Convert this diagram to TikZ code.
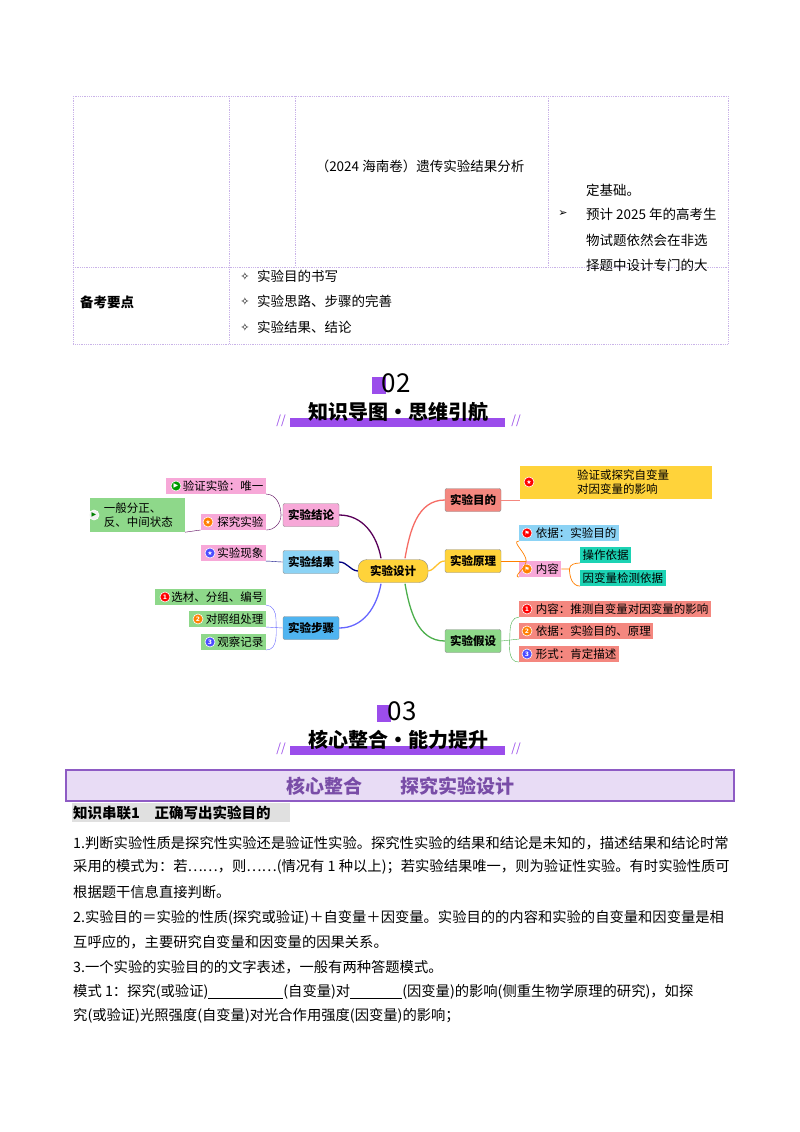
\documentclass[tikz,border=0pt]{standalone}
\usepackage{fontspec}
\setmainfont{Noto Sans CJK SC}
\newfontfamily\symfont{DejaVu Sans}
\usetikzlibrary{positioning}
\definecolor{grid}{HTML}{C9B3E8}
\definecolor{vio}{HTML}{9B4DEB}
\definecolor{boxfill}{HTML}{E8DCF5}
\definecolor{boxline}{HTML}{8E5BC4}
\definecolor{salmon}{HTML}{F4877F}
\definecolor{gold}{HTML}{FFD33A}
\definecolor{pinkb}{HTML}{F7A8D8}
\definecolor{skyb}{HTML}{8CD3F5}
\definecolor{greenb}{HTML}{8ED88A}
\definecolor{tealb}{HTML}{1CD3B4}
\definecolor{blueb}{HTML}{4FB4F0}
\tikzset{
  topic/.style={draw=black!45, rounded corners=2pt, font=\bfseries\fontsize{11.5}{12}\selectfont, minimum width=56, minimum height=23, inner sep=2pt},
  leaf/.style={rounded corners=0pt, font=\fontsize{11.5}{14}\selectfont, inner sep=2.5pt, anchor=west, align=left},
  leafl/.style={leaf, anchor=east},
  body/.style={anchor=west, inner sep=0, font=\fontsize{14.3}{16}\selectfont},
  cell/.style={anchor=west, inner sep=0, font=\fontsize{13.5}{15}\selectfont},
  dots/.style={grid, densely dotted, line width=0.8pt},
  ico/.style={circle, fill=#1, draw=white, line width=0.6pt, inner sep=0, minimum size=10, text=white, font=\symfont\bfseries\fontsize{6}{6}\selectfont},
}
\begin{document}
\begin{tikzpicture}[x=1pt, y=-1pt]
\useasboundingbox[fill=white] (0,0) rectangle (800,1132);

% table
\draw[dots] (73,96) rectangle (728,344);
\draw[dots] (73,267) -- (728,267);
\draw[dots] (229,96) -- (229,344);
\draw[dots] (295,96) -- (295,267);
\draw[dots] (548,96) -- (548,267);
\node[cell, anchor=center] (exam) at (420,166) {（2024\ 海南卷）遗传实验结果分析};
\node[cell] (r1) at (586,190) {定基础。};
\node[anchor=center, font=\symfont\fontsize{11}{11}\selectfont] (arr) at (563,214) {➢};
\node[cell] (r2) at (586,214) {预计 2025 年的高考生};
\node[cell] (r3) at (586,240) {物试题依然会在非选};
\node[cell] (r4) at (586,265) {择题中设计专门的大};
\node[cell, font=\bfseries\fontsize{13.5}{15}\selectfont] (prep) at (80,302) {备考要点};
\foreach \y/\t in {276/实验目的书写, 301/实验思路、步骤的完善, 327/实验结果、结论}{
  \node[anchor=center, font=\symfont\fontsize{11}{11}\selectfont] at (245,\y) {✧};
  \node[cell] at (257,\y) {\t};
}

% header 02
\fill[vio] (372,377) rectangle (386,394);
\node[font=\fontsize{26}{26}\selectfont, inner sep=0] (n02) at (396,383) {02};
\fill[vio] (290,418) rectangle (505,427);
\node[font=\bfseries\fontsize{20}{20}\selectfont, inner sep=0] (t02) at (398,412) {知识导图·思维引航};
\node[text=vio, font=\fontsize{12}{12}\selectfont\itshape] at (281,421) {//};
\node[text=vio, font=\fontsize{12}{12}\selectfont\itshape] at (516,421) {//};

% mind map
\node[topic, fill=gold, rounded corners=9pt, minimum width=70] (root) at (393,571) {实验设计};
\node[topic, fill=salmon] (aim) at (473,500) {实验目的};
\node[topic, fill=gold] (prin) at (473,561) {实验原理};
\node[topic, fill=greenb] (hyp) at (473,641) {实验假设};
\node[topic, fill=pinkb] (conc) at (311,515) {实验结论};
\node[topic, fill=skyb] (res) at (311,562) {实验结果};
\node[topic, fill=blueb] (step) at (311,628) {实验步骤};

\draw[salmon!80!red, line width=1.3pt] (root.north) ++(12,-1) to[out=80, in=180] (aim.west);
\draw[gold!80!orange, line width=1.3pt] (root.east) to[out=10, in=180] (prin.west);
\draw[green!55!black!70, line width=1.3pt] (root.south) ++(12,1) to[out=-80, in=180] (hyp.west);
\draw[violet!70!black, line width=1.3pt] (root.north) ++(-12,-1) to[out=100, in=0] (conc.east);
\draw[blue!50!black, line width=1.3pt] (root.west) to[out=175, in=0] (res.east);
\draw[blue!60, line width=1.3pt] (root.south) ++(-12,1) to[out=-100, in=0] (step.east);

% right leaves
\node[leaf, fill=gold, minimum height=33, minimum width=192] (aimA) at (520,482) {\hspace{14pt}验证或探究自变量\\\hspace{14pt}对因变量的影响};
\node[ico=red] at (529,482) {★};
\draw[salmon] (aim.east) -- (aimA.west |- aim.east);
\node[leaf, fill=skyb] (prinA) at (519,533) {\quad\ 依据：实验目的};
\node[ico=red] at (527,533) {⚑};
\node[leaf, fill=pinkb] (prinB) at (519,569) {\quad\ 内容};
\node[ico=orange] at (527,569) {⚑};
\node[leaf, fill=tealb] (prinC) at (580,555) {操作依据};
\node[leaf, fill=tealb] (prinD) at (580,578) {因变量检测依据};
\draw[orange, line width=0.7pt] (prin.east) -- ++(25,0) coordinate (pm);
\draw[orange, line width=0.7pt] (prinA.south west) to[out=180, in=90] (pm);
\draw[orange, line width=0.7pt] (pm) to[out=-90, in=180] (prinB.south west);
\draw[orange, line width=0.7pt] (prinB.east) ++(8,0) coordinate (pb);
\draw[orange, line width=0.7pt] (prinB.east) -- (pb) to[out=90, in=180] (prinC.south west);
\draw[orange, line width=0.7pt] (pb) to[out=-90, in=180] (prinD.south west);

\node[leaf, fill=salmon] (hypA) at (519,609) {\quad\ 内容：推测自变量对因变量的影响};
\node[ico=red] at (527,609) {1};
\node[leaf, fill=salmon] (hypB) at (519,631) {\quad\ 依据：实验目的、原理};
\node[ico=orange] at (527,631) {2};
\node[leaf, fill=salmon] (hypC) at (519,654) {\quad\ 形式：肯定描述};
\node[ico=blue!70] at (527,654) {3};
\draw[green!55!black!70] (hyp.east) -- (hypB.south west);
\draw[green!55!black!70] (hypA.south west) to[out=180, in=90] (510,631) to[out=-90, in=180] (hypC.south west);

% left leaves
\node[leafl, fill=pinkb] (concA) at (266,486) {\quad\ 验证实验：唯一};
\node[ico=green!60!black] at (176,486) {▶};
\node[leafl, fill=pinkb] (concB) at (266,522) {\quad\ 探究实验};
\node[ico=orange] at (208,522) {★};
\node[leafl, fill=greenb, minimum height=34, text width=90] (concC) at (185,515) {\quad 一般分正、\\\quad 反、中间状态};
\node[ico=white!90!gray, text=green!50!black] at (94,515) {▶};
\draw[violet!70!black] (concA.south east) to[out=0, in=90] (281,515) -- (conc.west);
\draw[violet!70!black] (281,515) to[out=-90, in=0] (concB.south east);
\draw[violet!70!black] (concB.south west) -- (concC.south east);

\node[leafl, fill=pinkb] (resA) at (266,553) {\quad\ 实验现象};
\node[ico=blue!70] at (210,553) {★};
\draw[blue!50!black] (resA.south east) to[out=0, in=180] (res.west);

\node[leafl, fill=greenb] (stepA) at (266,597) {\quad\ 选材、分组、编号};
\node[ico=red] at (165,597) {1};
\node[leafl, fill=greenb] (stepB) at (266,619) {\quad\ 对照组处理};
\node[ico=orange] at (198,619) {2};
\node[leafl, fill=greenb] (stepC) at (266,642) {\quad\ 观察记录};
\node[ico=blue!70] at (210,642) {3};
\draw[blue!60] (step.west) -- (stepB.south east);
\draw[blue!60] (stepA.south east) to[out=0, in=90] (276,619) to[out=-90, in=0] (stepC.south east);

% header 03
\fill[vio] (377,705) rectangle (391,722);
\node[font=\fontsize{26}{26}\selectfont, inner sep=0] (n03) at (402,711) {03};
\fill[vio] (290,746) rectangle (505,755);
\node[font=\bfseries\fontsize{20}{20}\selectfont, inner sep=0] (t03) at (398,740) {核心整合·能力提升};
\node[text=vio, font=\fontsize{12}{12}\selectfont\itshape] at (281,749) {//};
\node[text=vio, font=\fontsize{12}{12}\selectfont\itshape] at (516,749) {//};

% section box
\draw[fill=boxfill, draw=boxline, line width=1.6pt] (66,770) rectangle (734,801);
\node[text=boxline!85!black, font=\bfseries\fontsize{19}{19}\selectfont] (sec) at (400,786) {核心整合\qquad 探究实验设计};
\fill[black!12] (72,803) rectangle (290,822);
\node[body, font=\bfseries\fontsize{14.5}{16}\selectfont] (h1) at (73,813) {知识串联1\quad 正确写出实验目的};

% body text
\foreach \y/\t in {
 843/{1.判断实验性质是探究性实验还是验证性实验。探究性实验的结果和结论是未知的，描述结果和结论时常},
 867/{采用的模式为：若……，则……(情况有 1 种以上)；若实验结果唯一，则为验证性实验。有时实验性质可},
 892/{根据题干信息直接判断。},
 918/{2.实验目的＝实验的性质(探究或验证)＋自变量＋因变量。实验目的的内容和实验的自变量和因变量是相},
 942/{互呼应的，主要研究自变量和因变量的因果关系。},
 967/{3.一个实验的实验目的的文字表述，一般有两种答题模式。},
 992/{模式 1：探究(或验证)\underline{\hspace{75pt}}(自变量)对\underline{\hspace{52pt}}(因变量)的影响(侧重生物学原理的研究)，如探},
 1016/{究(或验证)光照强度(自变量)对光合作用强度(因变量)的影响；}}
  \node[body] at (73,\y) {\t};
\end{tikzpicture}
\end{document}
